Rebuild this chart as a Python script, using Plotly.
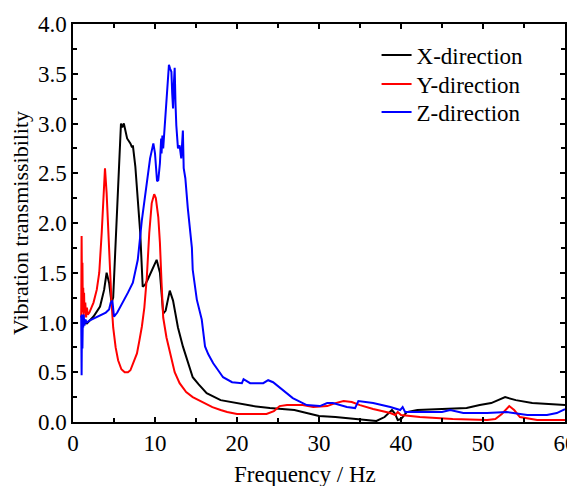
import plotly.graph_objects as go

# X-direction (black)
x_freq = [1.0, 1.7, 2.5, 3.3, 3.8, 4.1, 4.4, 4.7, 4.9, 5.1, 5.4, 5.7, 5.85, 6.0, 6.2, 6.6, 7.0, 7.2, 7.3,
          7.6, 8.2, 8.5, 8.8, 9.1, 9.8, 10.2, 10.6, 11.0, 11.3, 11.8, 12.2, 12.8, 13.4, 14.0, 14.6, 15.3,
          16.3, 18, 20, 22, 24, 26, 27, 28.5, 30, 32, 35, 37, 38, 38.9, 39.3, 39.6, 40, 40.7, 42, 45, 48,
          49.6, 51, 52.7, 54, 56, 58, 60]
x_vals = [1.0, 0.99, 1.06, 1.16, 1.33, 1.5, 1.4, 1.2, 1.25, 1.6, 2.2, 2.8, 3.0, 2.96, 3.0, 2.85, 2.8, 2.76, 2.78,
          2.57, 1.9, 1.36, 1.38, 1.43, 1.56, 1.63, 1.5, 1.09, 1.12, 1.32, 1.22, 0.95, 0.76, 0.6, 0.45, 0.38,
          0.29, 0.22, 0.19, 0.16, 0.14, 0.13, 0.12, 0.09, 0.06, 0.05, 0.03, 0.01, 0.05, 0.12, 0.08, 0.02, 0.03,
          0.10, 0.12, 0.13, 0.14, 0.17, 0.19, 0.25, 0.22, 0.19, 0.18, 0.17]

# Y-direction (red)
y_freq = [1.0, 1.05, 1.1, 1.15, 1.2, 1.25, 1.3, 1.35, 1.4, 1.5, 1.6, 1.7, 1.8, 2.0, 2.1, 2.5, 2.9, 3.2, 3.5,
          3.7, 3.9, 4.1, 4.3, 4.5, 4.7, 4.9, 5.2, 5.5, 5.9, 6.3, 6.7, 7.0, 7.4, 7.8, 8.1, 8.4, 8.7, 9.0, 9.3,
          9.6, 9.9, 10.1, 10.4, 10.6, 10.8, 11.0, 11.4, 11.8, 12.4, 13.0, 13.8, 14.6, 15.5, 16.3, 17, 18, 18.8,
          20, 22, 23.6, 24.5, 25.2, 26.1, 28, 29.3, 31, 32, 33, 34, 35, 36.6, 38.7, 39.3, 39.6, 40, 42.3,
          46.3, 50.5, 51.5, 52.3, 53.2, 53.8, 54.5, 56.6, 60]
y_vals = [1.05, 1.87, 1.3, 1.6, 1.1, 1.35, 1.05, 1.3, 1.1, 1.2, 1.05, 1.15, 1.08, 1.1, 1.12, 1.2, 1.33, 1.5, 1.9,
          2.3, 2.55, 2.3, 1.9, 1.6, 1.2, 0.95, 0.75, 0.62, 0.53, 0.5, 0.5, 0.52, 0.6, 0.69, 0.82, 0.96, 1.15,
          1.45, 1.9, 2.2, 2.29, 2.25, 2.06, 1.8, 1.4, 1.05, 0.85, 0.72, 0.5, 0.39, 0.3, 0.25, 0.21, 0.18, 0.15,
          0.12, 0.1, 0.08, 0.08, 0.08, 0.11, 0.16, 0.17, 0.17, 0.15, 0.16, 0.19, 0.21, 0.2, 0.17, 0.13, 0.09,
          0.07, 0.1, 0.07, 0.05, 0.03, 0.02, 0.03, 0.08, 0.16, 0.12, 0.05, 0.02, 0.02]

# Z-direction (blue)
z_freq = [1.0, 1.05, 1.1, 1.15, 1.2, 1.25, 1.3, 1.4, 1.5, 1.7, 2.0, 2.5, 3.0, 3.5, 4.0, 4.4, 4.6, 4.8, 5.0,
          5.4, 6.1, 6.7, 7.3, 7.9, 8.4, 9.0, 9.4, 9.8, 10.0, 10.25, 10.4, 10.6, 10.75, 10.8, 10.9, 11.0, 11.2,
          11.5, 11.7, 11.85, 12.0, 12.1, 12.2, 12.3, 12.4, 12.5, 12.6, 12.8, 13.0, 13.2, 13.4, 13.5, 13.7,
          14.0, 14.5, 14.6, 15.1, 15.7, 16.1, 16.5, 17.1, 17.7, 18.3, 19.4, 20.6, 20.8, 21.6, 23.2, 23.8,
          24.4, 25.0, 25.6, 26.8, 28.5, 30.1, 31, 31.7, 33.4, 34.4, 34.8, 36.6, 38.7, 39.9, 40.2, 40.5,
          42.3, 45, 46, 47.6, 50.5, 52.9, 55.4, 57.8, 59, 60]
z_vals = [1.07, 0.47, 1.08, 0.74, 1.05, 0.95, 1.08, 0.97, 1.03, 1.0, 1.02, 1.04, 1.06, 1.08, 1.1, 1.13, 1.2,
          1.22, 1.06, 1.1, 1.2, 1.3, 1.4, 1.63, 2.03, 2.4, 2.65, 2.8, 2.7, 2.42, 2.43, 2.6, 2.85, 2.7, 2.88,
          2.75, 3.0, 3.35, 3.59, 3.55, 3.52, 3.3, 3.15, 3.4, 3.56, 3.2, 2.98, 2.75, 2.78, 2.65, 2.93, 2.55,
          2.45, 2.15, 1.75, 1.53, 1.23, 1.03, 0.76, 0.68, 0.59, 0.52, 0.45, 0.4, 0.39, 0.43, 0.39, 0.39, 0.42,
          0.4, 0.36, 0.32, 0.24, 0.17, 0.16, 0.19, 0.19, 0.15, 0.14, 0.21, 0.19, 0.15, 0.12, 0.15, 0.1,
          0.10, 0.10, 0.12, 0.09, 0.09, 0.10, 0.07, 0.07, 0.09, 0.13]

x_ticks = [0, 10, 20, 30, 40, 50, 60]
y_ticks = [0.0, 0.5, 1.0, 1.5, 2.0, 2.5, 3.0, 3.5, 4.0]

FONT = "Liberation Serif, Times New Roman, serif"
LEG_FONT = dict(family=FONT, size=23, color="black")

fig = go.Figure()
fig.add_trace(go.Scatter(x=x_freq, y=x_vals, mode="lines", name="X-direction", legend="legend",
                         line=dict(color="black", width=2)))
fig.add_trace(go.Scatter(x=y_freq, y=y_vals, mode="lines", name="Y-direction", legend="legend2",
                         line=dict(color="#ff0000", width=2)))
fig.add_trace(go.Scatter(x=z_freq, y=z_vals, mode="lines", name="Z-direction", legend="legend3",
                         line=dict(color="#0000ff", width=2)))

leg_common = dict(x=0.617, xanchor="left", yanchor="middle", bgcolor="rgba(0,0,0,0)", font=LEG_FONT)

fig.update_layout(
    width=567, height=478,
    margin=dict(l=65, r=10, t=16, b=64),
    paper_bgcolor="white", plot_bgcolor="white",
    font=dict(family=FONT, size=22, color="black"),
    showlegend=True,
    legend=dict(y=0.922, **leg_common),
    legend2=dict(y=0.849, **leg_common),
    legend3=dict(y=0.779, **leg_common),
    annotations=[dict(text="Frequency / Hz", xref="paper", yref="paper", x=0.4715, y=0,
                      xanchor="center", yanchor="middle", yshift=-52, showarrow=False,
                      font=dict(family=FONT, size=23, color="black"))],
)
fig.update_xaxes(range=[0, 60], tickvals=x_ticks, ticks="inside", ticklen=5, tickwidth=1.5,
                 tickcolor="black", showline=True, linecolor="black", linewidth=1.5, mirror="ticks",
                 showgrid=False, zeroline=False, automargin=False, ticklabeloverflow="allow",
                 minor=dict(dtick=5, ticks="inside", ticklen=4, tickwidth=1.5, tickcolor="black", showgrid=False),
                 tickfont=dict(family=FONT, size=23, color="black"))
fig.update_yaxes(range=[0, 4], tickvals=y_ticks, tickformat=".1f", ticks="inside", ticklen=5, tickwidth=1.5,
                 tickcolor="black", showline=True, linecolor="black", linewidth=1.5, mirror="ticks",
                 showgrid=False, zeroline=False, automargin=False, ticklabeloverflow="allow",
                 minor=dict(dtick=0.25, ticks="inside", ticklen=4, tickwidth=1.5, tickcolor="black", showgrid=False),
                 tickfont=dict(family=FONT, size=23, color="black"),
                 title=dict(text="Vibration transmissibility", font=dict(family=FONT, size=22, color="black"),
                            standoff=6))

fig.write_html("out.html")
